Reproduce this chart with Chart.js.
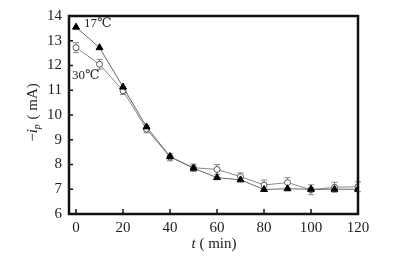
<!DOCTYPE html>
<html lang="en">
<head>
<meta charset="UTF-8">
<title>ip vs t</title>
<script src="https://cdn.jsdelivr.net/npm/chart.js@4.4.0/dist/chart.umd.min.js"></script>
<style>
  body { margin: 0; background: #fff; }
  #wrap { width: 397px; height: 264px; }
</style>
</head>
<body>
<div id="wrap"><canvas id="myChart" width="397" height="264"></canvas></div>
<script>
// data
var times = [0, 10, 20, 30, 40, 50, 60, 70, 80, 90, 100, 110, 120];
var ip17 = [13.55, 12.72, 11.13, 9.52, 8.32, 7.85, 7.47, 7.38, 6.99, 7.02, 7.0, 7.0, 7.0];
var ip30 = [12.72, 12.05, 10.98, 9.43, 8.3, 7.87, 7.8, 7.51, 7.17, 7.27, 6.98, 7.08, 7.1];
var err30 = [0.2, 0.2, 0.15, 0.15, 0.15, 0.15, 0.2, 0.15, 0.2, 0.2, 0.2, 0.2, 0.2];
var xTicks = [0, 20, 40, 60, 80, 100, 120];
var yTicks = [6, 7, 8, 9, 10, 11, 12, 13, 14];
var seriesNames = ['17℃', '30℃'];

var serif = '"Liberation Serif", "DejaVu Serif", serif';

function toPts(ys) {
    return times.map(function (t, i) { return { x: t, y: ys[i] }; });
}

// error bars, inward ticks, frame, axis titles and series labels
var decor = {
    id: 'decor',
    beforeDatasetsDraw: function (chart) {
        var c = chart.ctx, xs = chart.scales.x, ys = chart.scales.y;
        c.save();
        c.strokeStyle = '#888';
        c.lineWidth = 1;
        times.forEach(function (t, i) {
            var px = xs.getPixelForValue(t);
            var top = ys.getPixelForValue(ip30[i] + err30[i]);
            var bot = ys.getPixelForValue(ip30[i] - err30[i]);
            c.beginPath();
            c.moveTo(px, top); c.lineTo(px, bot);
            c.moveTo(px - 3, top); c.lineTo(px + 3, top);
            c.moveTo(px - 3, bot); c.lineTo(px + 3, bot);
            c.stroke();
        });
        c.restore();
    },
    afterDraw: function (chart) {
        var c = chart.ctx, a = chart.chartArea, xs = chart.scales.x, ys = chart.scales.y;
        c.save();
        c.strokeStyle = '#111';
        c.lineWidth = 1.5;
        xTicks.forEach(function (t) {
            var px = xs.getPixelForValue(t);
            c.beginPath(); c.moveTo(px, a.bottom); c.lineTo(px, a.bottom - 5); c.stroke();
        });
        yTicks.forEach(function (v) {
            var py = ys.getPixelForValue(v);
            c.beginPath(); c.moveTo(a.left, py); c.lineTo(a.left + 4, py); c.stroke();
        });
        c.lineWidth = 2.5;
        c.strokeRect(a.left, a.top, a.right - a.left, a.bottom - a.top);

        c.fillStyle = '#222';
        c.font = '13px ' + serif;
        c.textBaseline = 'middle';
        c.textAlign = 'left';
        c.fillText(seriesNames[0], a.left + 15, a.top + 8);
        c.fillText(seriesNames[1], a.left + 3, a.top + 60);

        // x title: t ( min)
        var y0 = 244;
        c.font = 'italic 15px ' + serif;
        var w1 = c.measureText('t').width;
        c.font = '15px ' + serif;
        var w2 = c.measureText(' ( min)').width;
        var x0 = 214 - (w1 + w2) / 2;
        c.font = 'italic 15px ' + serif;
        c.fillText('t', x0, y0);
        c.font = '15px ' + serif;
        c.fillText(' ( min)', x0 + w1, y0);

        // y title: -i_p ( mA)
        c.translate(33, 113);
        c.rotate(-Math.PI / 2);
        c.font = '15px ' + serif;
        var m = c.measureText('−').width;
        c.font = 'italic 15px ' + serif;
        var iw = c.measureText('i').width;
        c.font = 'italic 10px ' + serif;
        var pw = c.measureText('p').width;
        c.font = '15px ' + serif;
        var rest = ' ( mA)';
        var rw = c.measureText(rest).width;
        var sx = -(m + iw + pw + rw) / 2;
        c.fillText('−', sx, 0);
        c.font = 'italic 15px ' + serif;
        c.fillText('i', sx + m, 0);
        c.font = 'italic 10px ' + serif;
        c.fillText('p', sx + m + iw, 4);
        c.font = '15px ' + serif;
        c.fillText(rest, sx + m + iw + pw + 1, 0);
        c.restore();
    }
};

var chartArea = document.getElementById('myChart').getContext('2d');
var myChart = new Chart(chartArea, {
    type: 'line',
    data: {
        datasets: [{
            label: seriesNames[0],
            data: toPts(ip17),
            borderColor: '#666',
            borderWidth: 1,
            pointStyle: 'triangle',
            pointRadius: 4,
            pointBackgroundColor: '#000',
            pointBorderColor: '#000',
            pointBorderWidth: 1
        }, {
            label: seriesNames[1],
            data: toPts(ip30),
            borderColor: '#888',
            borderWidth: 1,
            pointStyle: 'circle',
            pointRadius: 3,
            pointBackgroundColor: '#fff',
            pointBorderColor: '#555',
            pointBorderWidth: 1
        }]
    },
    options: {
        responsive: false,
        animation: false,
        layout: { padding: { top: 13, right: 39, left: 0, bottom: 0 } },
        plugins: { legend: { display: false }, tooltip: { enabled: false } },
        scales: {
            x: {
                type: 'linear',
                min: -3,
                max: 120,
                afterFit: function (s) { s.height = 50; },
                afterBuildTicks: function (s) { s.ticks = xTicks.map(function (v) { return { value: v }; }); },
                grid: { display: false, drawTicks: false },
                border: { display: false },
                ticks: { color: '#222', font: { family: serif, size: 15 }, padding: 5, maxRotation: 0 }
            },
            y: {
                min: 6,
                max: 14,
                afterFit: function (s) { s.width = 69; },
                afterBuildTicks: function (s) { s.ticks = yTicks.map(function (v) { return { value: v }; }); },
                grid: { display: false, drawTicks: false },
                border: { display: false },
                ticks: { color: '#222', font: { family: serif, size: 15 }, padding: 7 }
            }
        }
    },
    plugins: [decor]
});
</script>
</body>
</html>
